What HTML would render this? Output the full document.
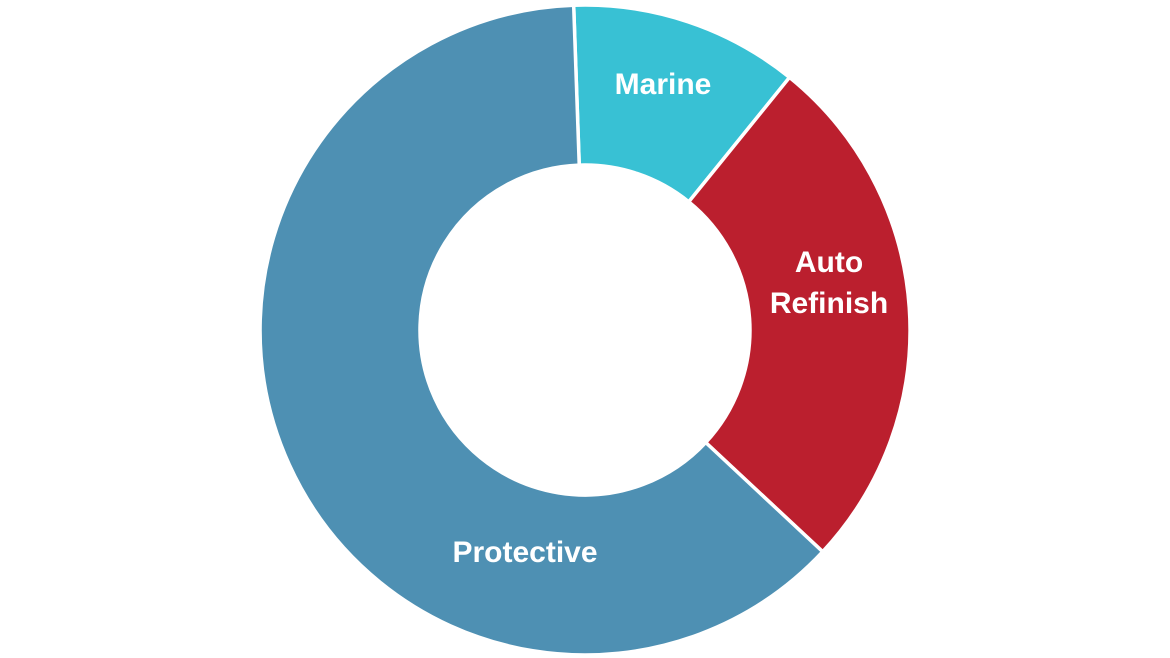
<!DOCTYPE html>
<html><head><meta charset="utf-8"><style>
html,body{margin:0;padding:0;background:#fff;}
svg{display:block;}
text{font-family:"Liberation Sans",sans-serif;font-weight:bold;fill:#fff;font-size:30px;text-anchor:middle;}
</style></head><body>
<svg width="1170" height="658" viewBox="0 0 1170 658">
<g stroke="#fff" stroke-width="3.5" stroke-linejoin="miter">
<path fill="#38c1d4" d="M573.66,5.2 A325,325 0 0 1 789.5,77.4 L688.8,201.8 A165,165 0 0 0 579.24,165.1 Z"/>
<path fill="#bb1f2e" d="M789.5,77.4 A325,325 0 0 1 822.7,551.7 L705.7,442.5 A165,165 0 0 0 688.8,201.8 Z"/>
<path fill="#4e90b3" d="M822.7,551.7 A325,325 0 1 1 573.66,5.2 L579.24,165.1 A165,165 0 1 0 705.7,442.5 Z"/>
</g>
<text x="663" y="94">Marine</text>
<text x="829" y="272">Auto</text>
<text x="829" y="313">Refinish</text>
<text x="525" y="562">Protective</text>
</svg>
</body></html>
